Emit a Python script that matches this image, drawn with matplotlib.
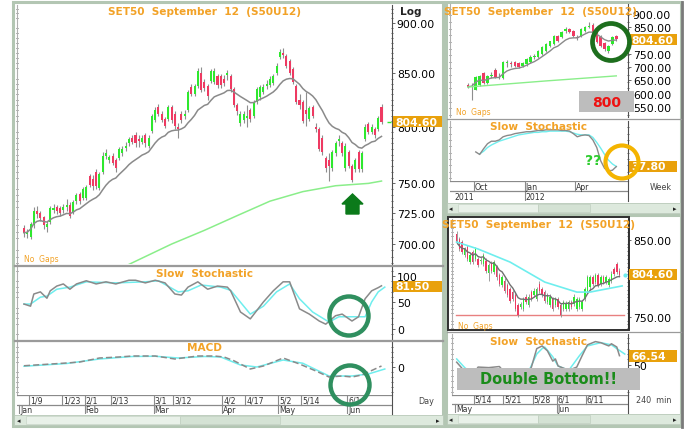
import numpy as np
import pandas as pd
import matplotlib
matplotlib.use('Agg')
import matplotlib.pyplot as plt
from matplotlib.patches import Rectangle, Ellipse, Polygon

W, H = 689, 431

# ---------------- daily S50U12 (5 Jan - 19 Jun 2012) ----------------
d_open = [713, 708, 706, 715, 727, 725, 722, 714, 718, 728, 730, 729, 728, 730, 732, 726, 735, 741, 738, 738,
          756, 754, 760, 746, 760, 774, 770, 774, 770, 772, 776, 781, 785, 790, 792, 789, 786, 792, 783, 796,
          806, 818, 812, 807, 807, 818, 812, 800, 812, 810, 815, 837, 830, 838, 850, 842, 838, 843, 842, 847,
          847, 845, 848, 847, 835, 820, 803, 806, 808, 815, 810, 823, 827, 832, 838, 839, 841, 850, 866, 870,
          867, 862, 854, 838, 825, 823, 815, 807, 818, 800, 798, 790, 772, 770, 763, 776, 787, 785, 763, 777,
          765, 762, 777, 762, 789, 802, 795, 798, 798, 818]
d_close = [709, 710, 716, 727, 724, 721, 715, 716, 729, 729, 727, 725, 730, 732, 723, 734, 740, 735, 745, 747,
           749, 748, 748, 758, 774, 776, 773, 768, 763, 780, 780, 783, 789, 786, 785, 787, 790, 785, 790, 810,
           815, 812, 806, 801, 818, 806, 801, 798, 806, 812, 832, 830, 838, 852, 834, 836, 828, 852, 852, 839,
           839, 841, 850, 835, 820, 814, 812, 812, 810, 807, 823, 835, 837, 837, 840, 845, 847, 857, 871, 868,
           857, 850, 842, 823, 820, 805, 812, 817, 810, 798, 780, 777, 763, 765, 777, 785, 789, 776, 783, 765,
           753, 770, 762, 776, 800, 795, 800, 792, 808, 804.6]
d_high = [715, 712, 718, 730, 731, 727, 723, 719, 731, 733, 732, 731, 733, 737, 734, 736, 742, 743, 747, 749,
          758, 757, 762, 760, 777, 780, 775, 776, 772, 782, 783, 786, 791, 792, 795, 792, 792, 794, 792, 812,
          818, 821, 814, 809, 820, 820, 814, 803, 814, 815, 834, 840, 840, 855, 856, 845, 840, 854, 855, 849,
          849, 848, 853, 849, 837, 822, 814, 814, 820, 817, 825, 837, 839, 840, 844, 847, 849, 860, 874, 875,
          869, 864, 856, 840, 830, 825, 832, 819, 820, 803, 800, 792, 774, 776, 779, 787, 792, 787, 785, 779,
          767, 772, 779, 778, 802, 804, 802, 800, 810, 821]
d_low = [706, 705, 704, 713, 721, 719, 712, 710, 716, 725, 724, 723, 725, 727, 721, 724, 733, 733, 736, 736,
         747, 744, 745, 744, 758, 771, 768, 766, 760, 770, 774, 778, 783, 784, 782, 782, 784, 782, 781, 794,
         804, 810, 804, 799, 805, 803, 798, 790, 803, 807, 813, 828, 828, 836, 832, 833, 825, 841, 840, 836,
         836, 838, 844, 832, 818, 811, 801, 803, 800, 804, 808, 821, 825, 830, 835, 837, 839, 848, 864, 865,
         855, 848, 840, 821, 816, 803, 801, 805, 808, 795, 778, 775, 760, 752, 761, 774, 783, 774, 761, 763,
         751, 760, 760, 760, 787, 793, 793, 790, 796, 802]
day_ticks = [2, 12, 19, 27, 40, 46, 61, 68, 78, 85, 99]
day_labels = ['1/9', '1/23', '2/1', '2/13', '3/1', '3/12', '4/2', '4/17', '5/2', '5/14', '6/1']
month_ticks = [-1, 19, 40, 61, 78, 99]
month_labels = ['Jan', 'Feb', 'Mar', 'Apr', 'May', 'Jun']
lma_idx = [32, 45, 55, 65, 75, 85, 95, 105, 109]
lma_val = [684, 700, 711, 723, 735, 743, 748, 750, 752]
stk_idx = [0, 2, 3, 5, 7, 8, 10, 12, 14, 16, 19, 22, 25, 28, 32, 34, 37, 40, 43, 46, 48, 50, 53, 56, 59,
           62, 63, 66, 69, 73, 76, 79, 81, 84, 87, 90, 92, 95, 97, 100, 102, 104, 106, 108, 109]
stk_val = [47, 43, 66, 70, 58, 72, 81, 85, 75, 85, 91, 85, 89, 85, 92, 92, 87, 92, 87, 66, 64, 79, 89, 75, 81,
           79, 72, 32, 19, 51, 72, 89, 89, 38, 28, 15, 9, 25, 28, 15, 23, 57, 72, 78, 81.5]
std_idx = [0, 2, 5, 7, 10, 14, 19, 28, 37, 41, 47, 50, 54, 60, 63, 69, 73, 77, 81, 84, 88, 93, 96, 100, 104,
           106, 108, 110]
std_val = [47, 47, 60, 62, 75, 79, 89, 87, 89, 91, 70, 72, 83, 79, 73, 28, 43, 70, 85, 57, 32, 13, 23, 23, 23,
           51, 70, 79]
macd_idx = [0, 13, 17, 23, 29, 33, 40, 46, 53, 58, 61, 64, 69, 73, 79, 84, 89, 93, 97, 100, 103, 109]
macd_val = [0.5, 1.6, 2.0, 3.6, 4.0, 4.4, 4.4, 3.2, 4.4, 4.4, 4.0, 2.5, -0.8, 0.4, 3.6, 1.2, -1.6, -4.0,
            -3.6, -4.0, -3.2, 0.4]
sig_idx = [0, 13, 23, 33, 40, 47, 55, 60, 66, 71, 79, 85, 93, 100, 105, 110]
sig_val = [0.3, 1.4, 3.2, 4.2, 4.3, 3.6, 4.2, 4.0, 0.8, 0.0, 2.8, 1.5, -3.6, -3.6, -2.8, -0.8]

# ---------------- weekly (Sep 2011 - Jun 2012) ----------------
w_open = [634, 626, 615, 634, 676, 640, 668, 691, 660, 660, 716, 714, 718, 714, 704, 710, 718, 738, 740, 750,
          760, 780, 786, 818, 812, 838, 842, 835, 814, 816, 836, 850, 858, 832, 815, 792, 760, 786, 818]
w_close = [626, 630, 664, 668, 642, 668, 672, 664, 664, 718, 720, 710, 706, 702, 716, 729, 740, 742, 760, 775,
           786, 797, 816, 800, 832, 842, 832, 816, 810, 842, 852, 856, 832, 795, 780, 767, 780, 812, 804.6]
w_high = [640, 640, 668, 672, 680, 672, 680, 695, 676, 722, 726, 722, 722, 718, 720, 733, 744, 750, 764, 778,
          790, 800, 820, 822, 836, 852, 846, 840, 822, 846, 856, 872, 866, 836, 820, 796, 784, 816, 822]
w_low = [622, 575, 612, 630, 638, 636, 660, 660, 656, 656, 700, 700, 702, 698, 700, 706, 714, 730, 736, 746,
         756, 776, 782, 796, 808, 830, 828, 812, 804, 812, 832, 846, 828, 790, 776, 762, 755, 782, 800]
wk_month_ticks = [2, 15, 28]
wk_month_labels = ['Oct', 'Jan', 'Apr']
wlma_idx = [0, 20, 38]
wlma_val = [625, 648, 667]
wk_k = [61, 57, 66, 74, 78, 78, 80, 85, 87, 88, 90, 91, 92, 93, 93, 94, 95, 95, 96, 96, 96, 96, 95, 95, 94,
        90, 85, 87, 88, 87, 80, 68, 47, 35, 31, 32, 37.8]
wk_d = [58, 62, 68, 72, 75, 78, 80, 82, 84, 86, 88, 89, 90, 91, 92, 92, 93, 93, 94, 94, 94, 94, 94, 93,
        91, 89, 88, 88, 88, 84, 76, 67, 57, 48, 42, 38]

# ---------------- 240 min (10 May - 19 Jun 2012) ----------------
m_open = [858, 851, 847, 830, 840, 821, 834, 825, 825, 822, 819, 823, 807, 819, 808, 814, 804, 791, 797, 791,
          786, 782, 778, 765, 763, 760, 776, 765, 782, 778, 773, 793, 786, 782, 769, 765, 773, 765, 773, 765,
          760, 760, 760, 769, 767, 760, 763, 760, 773, 784, 788, 801, 795, 804, 793, 801, 795, 791, 797, 812,
          819, 810]
m_close = [847, 838, 834, 838, 825, 830, 821, 838, 817, 824, 830, 810, 817, 810, 821, 801, 793, 801, 784, 778,
           771, 773, 760, 752, 766, 773, 769, 776, 773, 784, 786, 784, 778, 771, 778, 776, 760, 773, 763, 752,
           769, 767, 769, 763, 776, 773, 773, 769, 786, 801, 801, 793, 804, 791, 801, 795, 801, 799, 806, 806,
           808, 804.6]
m_high = [861, 854, 850, 841, 843, 833, 837, 841, 828, 827, 833, 826, 820, 822, 824, 817, 807, 804, 800, 794,
          789, 785, 781, 768, 769, 776, 779, 779, 785, 787, 789, 796, 789, 785, 781, 779, 776, 776, 776, 768,
          772, 770, 772, 772, 779, 776, 776, 772, 789, 804, 804, 804, 807, 807, 804, 804, 804, 802, 809, 815,
          821, 813]
m_low = [844, 835, 831, 827, 822, 818, 818, 822, 814, 819, 816, 807, 797, 807, 805, 798, 790, 788, 781, 775,
         768, 770, 757, 749, 760, 757, 766, 762, 770, 775, 770, 781, 775, 768, 766, 762, 757, 762, 760, 749,
         757, 757, 757, 760, 764, 757, 760, 757, 770, 781, 785, 790, 792, 788, 790, 792, 792, 788, 794, 803,
         805, 801]
m_day_ticks = [7, 18, 29, 38, 49]
m_day_labels = ['5/14', '5/21', '5/28', '6/1', '6/11']
m_month_ticks = [0, 38]
m_month_labels = ['May', 'Jun']
mlma_idx = [0, 8, 20, 33, 45, 50, 62]
mlma_val = [847, 838, 821, 795, 782, 782, 790]
support = 751.7
mk_idx = [0, 3, 6, 8, 12, 16, 19, 22, 25, 28, 30, 32, 34, 36, 37, 38, 42, 45, 47, 49, 52, 54, 57, 58, 60, 61]
mk_val = [55, 38, 30, 46, 45, 47, 30, 15, 20, 46, 80, 85, 76, 57, 61, 48, 40, 46, 67, 87, 93, 91, 85, 89, 83, 67]
md_idx = [0, 3, 6, 10, 14, 18, 22, 26, 30, 32, 33, 36, 38, 42, 46, 49, 54, 58, 60, 63]
md_val = [61, 45, 33, 35, 40, 38, 25, 28, 70, 80, 83, 65, 48, 40, 67, 85, 91, 87, 80, 70]

UP, DOWN, WICK = '#2ee82e', '#ee3a62', '#8e8e8e'
ORANGE, TAG = '#f2a227', '#e9a10c'
GRAYMA, LONGMA, CYAN = '#8a8a8a', '#8aee8a', '#6eeeee'


def px(x0, y0, x1, y1):
    return [x0 / W, 1 - y1 / H, (x1 - x0) / W, (y1 - y0) / H]


def fx(x):
    return x / W


def fy(y):
    return 1 - y / H


fig = plt.figure(figsize=(W / 100, H / 100), dpi=100)
fig.patch.set_facecolor('white')


def frect(x0, y0, x1, y1, fc='none', ec='none', lw=1.0, z=0):
    r = Rectangle((fx(x0), fy(y1)), (x1 - x0) / W, (y1 - y0) / H, transform=fig.transFigure,
                  facecolor=fc, edgecolor=ec, lw=lw, zorder=z)
    fig.add_artist(r)


def fline(x0, y0, x1, y1, c='#a0a0a0', lw=1.0, z=5):
    fig.add_artist(plt.Line2D([fx(x0), fx(x1)], [fy(y0), fy(y1)], transform=fig.transFigure,
                              color=c, lw=lw, zorder=z))


def ftext(x, y, s, size=6.5, color='#222222', ha='left', weight='normal', z=20):
    fig.text(fx(x), fy(y), s, fontsize=size, color=color, ha=ha, va='center', fontweight=weight, zorder=z)


def tag(x0, y0, x1, y1, s):
    frect(x0, y0, x1, y1, fc=TAG, z=15)
    ftext(x0 + 2, (y0 + y1) / 2, s, size=7.8, color='white', weight='bold', z=16)


def circle(cx, cy, r, color, lw):
    e = Ellipse((fx(cx), fy(cy)), 2 * r / W, 2 * r / H, transform=fig.transFigure, fill=False,
                edgecolor=color, lw=lw, zorder=30)
    fig.add_artist(e)


def panel(rect, xlim, ylim):
    ax = fig.add_axes(rect)
    ax.set_xlim(*xlim)
    ax.set_ylim(*ylim)
    ax.set_facecolor('white')
    for s in ['top', 'bottom']:
        ax.spines[s].set_visible(False)
    ax.spines['left'].set_color('#b0b0b0')
    ax.spines['right'].set_color('#505050')
    ax.yaxis.tick_right()
    ax.set_xticks([])
    ax.tick_params(axis='y', which='both', labelsize=7.8, length=2.5, width=0.6, color='#505050', pad=1)
    ax.tick_params(axis='y', which='minor', length=1.8, left=True, right=True, direction='inout')
    return ax


def draw_candles(ax, o, c, h, l, width, wick_lw=0.8):
    o, c, h, l = map(np.asarray, (o, c, h, l))
    x = np.arange(len(o))
    cols = np.where(c >= o, UP, DOWN)
    ax.vlines(x, l, h, color=WICK, lw=wick_lw, zorder=2)
    ax.bar(x, np.maximum(np.abs(c - o), 0.8), bottom=np.minimum(o, c), width=width, color=cols, lw=0,
           zorder=3)


# ================= frames / backgrounds =================
frect(13, 3, 443, 427, fc='white', ec='#b3c6b3', lw=2.2, z=0)
frect(446, 3, 681, 216, fc='white', ec='#b3c6b3', lw=2.2, z=0)
frect(446, 216, 681, 427, fc='white', ec='#b3c6b3', lw=2.2, z=0)
fline(682, 3, 682, 428, c='#7a7a7a', lw=2.0, z=1)

# ================= LEFT: daily chart =================
xl = (-2.13, 112.2)
ax = panel(px(17, 6, 392, 265), xl, (684.3, 918.7))
ax.set_yscale('log')
ax.set_ylim(684.3, 918.7)
yt = [700, 725, 750, 800, 850, 900]
ax.set_yticks(yt)
ax.set_yticklabels(['%.2f' % v for v in yt])
ax.set_yticks(np.arange(685, 920, 5), minor=True)
ax.yaxis.set_minor_formatter(matplotlib.ticker.NullFormatter())
draw_candles(ax, d_open, d_close, d_high, d_low, 0.62)
gma = pd.Series(d_close).ewm(span=16).mean()
ax.plot(np.arange(len(d_close)), gma, color=GRAYMA, lw=1.1, zorder=4)
ax.plot(lma_idx, lma_val, color=LONGMA, lw=1.1, zorder=4)
ax.plot([111.3], [d_close[-1]], marker='_', color=UP, ms=3, zorder=4)

ftext(205, 12, 'SET50  September  12  (S50U12)', size=7.6, color=ORANGE, ha='center', weight='bold')
ftext(400, 12, 'Log', size=7.6, color='#222222', weight='bold')
ftext(24, 260, 'No  Gaps', size=5.5, color=ORANGE)
tag(393, 117, 442, 128, '804.60')
fig.add_artist(Polygon([(fx(346), fy(215)), (fx(346), fy(205)), (fx(342), fy(205)), (fx(352.5), fy(195)),
                        (fx(363), fy(205)), (fx(359), fy(205)), (fx(359), fy(215))],
                       closed=True, transform=fig.transFigure, color='#0b7a1a', zorder=25))

# stochastic
axs = panel(px(17, 268, 392, 340), xl, (-19, 117))
axs.set_yticks([0, 50, 100])
axs.set_yticks(np.arange(-10, 115, 10), minor=True)
axs.yaxis.set_minor_formatter(matplotlib.ticker.NullFormatter())
axs.plot(std_idx, std_val, color=CYAN, lw=1.1, zorder=3)
axs.plot(stk_idx, stk_val, color=GRAYMA, lw=1.1, zorder=4)
ftext(204, 274, 'Slow  Stochastic', size=7.6, color=ORANGE, ha='center', weight='bold')
tag(393, 282, 442, 293, '81.50')

# MACD
axm = panel(px(17, 343, 392, 396), xl, (-11.2, 10))
axm.set_yticks([0])
axm.set_yticks(np.arange(-10, 10, 2), minor=True)
axm.yaxis.set_minor_formatter(matplotlib.ticker.NullFormatter())
axm.plot(sig_idx, sig_val, color=CYAN, lw=1.1, zorder=3)
axm.plot(macd_idx, macd_val, color=GRAYMA, lw=1.1, ls=(0, (4, 2)), zorder=4)
ftext(204, 348, 'MACD', size=7.6, color=ORANGE, ha='center', weight='bold')

# separators
for y in (266.5, 341.5):
    fline(14, y - 0.8, 443, y - 0.8, c='#9a9a9a', lw=0.9)
    fline(14, y + 0.8, 443, y + 0.8, c='#9a9a9a', lw=0.9)

# date rows
axd = fig.add_axes(px(17, 396, 392, 415))
axd.set_xlim(*xl)
axd.set_ylim(0, 2)
axd.axis('off')
axd.axhline(2, color='#8a8a8a', lw=0.9)
axd.axhline(1, color='#8a8a8a', lw=0.9)
for t, s in zip(day_ticks, day_labels):
    axd.plot([t - 0.5, t - 0.5], [1, 2], color='#8a8a8a', lw=0.8)
    axd.text(t - 0.2, 1.5, s, fontsize=5.6, va='center', color='#333333')
for t, s in zip(month_ticks, month_labels):
    axd.plot([t - 0.5, t - 0.5], [0, 1], color='#8a8a8a', lw=0.8)
    axd.text(t - 0.2, 0.5, s, fontsize=5.6, va='center', color='#333333')
fline(392, 396, 392, 415, c='#505050', lw=0.8)
ftext(418, 402, 'Day', size=5.8, color='#444444')

# scrollbar
frect(14, 416, 443, 426, fc='#dde9dd', ec='#b8c8b8', lw=0.6, z=2)
frect(26, 417, 180, 425, fc='#e9f1e9', ec='#c9d6c9', lw=0.5, z=3)
frect(180, 417, 280, 425, fc='#d4e2d4', ec='#c0cfc0', lw=0.5, z=3)
ftext(17, 421, '\u25c2', size=5, color='#222222')
ftext(436, 421, '\u25b8', size=5, color='#222222')

circle(349, 317, 19.5, '#2f8f5f', 3.2)
circle(350, 386, 19.5, '#2f8f5f', 3.2)

# ================= RIGHT TOP: weekly =================
wxl = (-4.6, 41)
aw = panel(px(450, 5, 628, 118), wxl, (512, 938))
wyt = [550, 600, 650, 700, 750, 850, 900]
aw.set_yticks(wyt)
aw.set_yticklabels(['%.2f' % v for v in wyt])
aw.set_yticks(np.arange(520, 940, 25), minor=True)
aw.yaxis.set_minor_formatter(matplotlib.ticker.NullFormatter())
draw_candles(aw, w_open, w_close, w_high, w_low, 0.65)
wma = pd.Series(w_close).ewm(span=8).mean()
aw.plot(np.arange(len(w_close)), wma, color=GRAYMA, lw=1.0, zorder=4)
aw.plot(wlma_idx, wlma_val, color=LONGMA, lw=1.0, zorder=4)
ftext(540, 12, 'SET50  September  12  (S50U12)', size=7.6, color=ORANGE, ha='center', weight='bold')
ftext(456, 113, 'No  Gaps', size=5.5, color=ORANGE)
tag(629, 35, 677, 46, '804.60')
frect(579, 92, 634, 113, fc='#bdbdbd', z=24)
ftext(606.5, 103, '800', size=10, color='#ee1111', ha='center', weight='bold', z=25)
circle(611, 43, 18.5, '#1d6e1d', 3.4)

aws = panel(px(450, 122, 628, 182), wxl, (15, 110))
aws.set_yticks([])
aws.set_yticks(np.arange(20, 110, 10), minor=True)
aws.plot(np.arange(3, 3 + len(wk_d)), wk_d, color=CYAN, lw=1.0, zorder=3)
aws.plot(np.arange(2, 2 + len(wk_k)), wk_k, color=GRAYMA, lw=1.0, zorder=4)
ftext(538, 127, 'Slow  Stochastic', size=7.6, color=ORANGE, ha='center', weight='bold')
tag(629, 162, 677, 173, '37.80')
ftext(585, 161, '??', size=10, color='#2ecc2e', weight='bold')
circle(622, 163, 16.5, '#f4b400', 3.0)
fline(447, 119.5, 681, 119.5, c='#9a9a9a', lw=0.9)

axwd = fig.add_axes(px(450, 182, 628, 202))
axwd.set_xlim(*wxl)
axwd.set_ylim(0, 2)
axwd.axis('off')
axwd.axhline(2, color='#8a8a8a', lw=0.9)
axwd.axhline(1, color='#8a8a8a', lw=0.9)
for t, s in zip(wk_month_ticks, wk_month_labels):
    axwd.plot([t - 0.5, t - 0.5], [1, 2], color='#8a8a8a', lw=0.8)
    axwd.text(t - 0.3, 1.45, s, fontsize=5.6, va='center', color='#333333')
axwd.plot([wk_month_ticks[1] - 0.5] * 2, [0, 1], color='#8a8a8a', lw=0.8)
axwd.text(-3.5, 0.45, '2011', fontsize=5.6, va='center', color='#333333')
axwd.text(wk_month_ticks[1] - 0.3, 0.45, '2012', fontsize=5.6, va='center', color='#333333')
fline(628, 182, 628, 202, c='#505050', lw=0.8)
ftext(650, 188, 'Week', size=5.8, color='#444444')
frect(447, 204, 680, 214, fc='#dde9dd', ec='#b8c8b8', lw=0.6, z=2)
frect(458, 205, 538, 213, fc='#e9f1e9', ec='#c9d6c9', lw=0.5, z=3)
frect(538, 205, 590, 213, fc='#d4e2d4', ec='#c0cfc0', lw=0.5, z=3)
ftext(449, 209, '\u25c2', size=5, color='#222222')
ftext(673, 209, '\u25b8', size=5, color='#222222')

# ================= RIGHT BOTTOM: 240 min =================
mxl = (-1.76, 64.2)
frect(448, 218, 629, 331, ec='#303030', lw=1.4, z=12)
am = panel(px(452, 220, 628, 330), mxl, (734, 877))
myt = [750, 850]
am.set_yticks(myt)
am.set_yticklabels(['%.2f' % v for v in myt])
am.set_yticks(np.arange(735, 877, 5), minor=True)
am.yaxis.set_minor_formatter(matplotlib.ticker.NullFormatter())
am.axhline(support, xmin=0.02, xmax=0.98, color='#e88080', lw=1.0, zorder=1)
draw_candles(am, m_open, m_close, m_high, m_low, 0.55, wick_lw=0.6)
mma = pd.Series(m_close).ewm(span=8).mean()
am.plot(np.arange(len(m_close)), mma, color='#707070', lw=1.0, zorder=4)
am.plot(mlma_idx, mlma_val, color=CYAN, lw=1.2, zorder=4)
am.plot([63.2], [m_close[-1]], marker='o', color=CYAN, ms=2, zorder=4)
ftext(538, 225, 'SET50  September  12  (S50U12)', size=7.6, color=ORANGE, ha='center', weight='bold')
ftext(458, 327, 'No  Gaps', size=5.5, color=ORANGE)
tag(629, 270, 677, 281, '804.60')

ams = panel(px(452, 335, 628, 396), mxl, (-5.5, 107))
ams.set_yticks([50])
ams.set_yticks(np.arange(0, 107, 10), minor=True)
ams.yaxis.set_minor_formatter(matplotlib.ticker.NullFormatter())
ams.plot(md_idx, md_val, color=CYAN, lw=1.1, zorder=3)
ams.plot(mk_idx, mk_val, color=GRAYMA, lw=1.1, zorder=4)
ftext(538, 342, 'Slow  Stochastic', size=7.6, color=ORANGE, ha='center', weight='bold')
tag(629, 351, 677, 363, '66.54')
fline(447, 333, 681, 333, c='#9a9a9a', lw=0.9)
frect(457, 369, 640, 391, fc='#bdbdbd', z=24)
ftext(548, 380, 'Double Bottom!!', size=10.5, color='#1a8c1a', ha='center', weight='bold', z=25)

axmd = fig.add_axes(px(452, 396, 628, 414))
axmd.set_xlim(*mxl)
axmd.set_ylim(0, 2)
axmd.axis('off')
axmd.axhline(2, color='#8a8a8a', lw=0.9)
axmd.axhline(1, color='#8a8a8a', lw=0.9)
for t, s in zip(m_day_ticks, m_day_labels):
    axmd.plot([t - 0.5, t - 0.5], [1, 2], color='#8a8a8a', lw=0.8)
    axmd.text(t - 0.2, 1.5, s, fontsize=5.6, va='center', color='#333333')
for t, s in zip(m_month_ticks, m_month_labels):
    axmd.plot([t - 0.5, t - 0.5], [0, 1], color='#8a8a8a', lw=0.8)
    axmd.text(t - 0.2, 0.5, s, fontsize=5.6, va='center', color='#333333')
fline(628, 396, 628, 414, c='#505050', lw=0.8)
ftext(636, 401, '240  min', size=5.8, color='#444444')
frect(447, 415, 680, 425, fc='#dde9dd', ec='#b8c8b8', lw=0.6, z=2)
frect(458, 416, 538, 424, fc='#e9f1e9', ec='#c9d6c9', lw=0.5, z=3)
frect(538, 416, 590, 424, fc='#d4e2d4', ec='#c0cfc0', lw=0.5, z=3)
ftext(449, 420, '\u25c2', size=5, color='#222222')
ftext(673, 420, '\u25b8', size=5, color='#222222')

fig.savefig('out.png', dpi=100)
